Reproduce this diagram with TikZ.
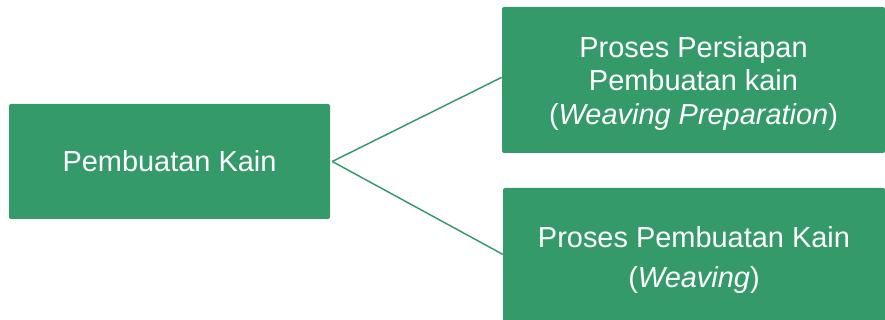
\documentclass[tikz,border=0pt]{standalone}
\usepackage{fontspec}
\setmainfont{Liberation Sans}
\definecolor{kaingreen}{RGB}{53,154,106}
\tikzset{
  kainbox/.style={fill=kaingreen, rounded corners=1.5pt, inner sep=0pt},
  kaintext/.style={text=white, inner sep=0pt, align=center, font=\fontsize{21.7}{25.1}\selectfont},
  kainline/.style={draw=kaingreen, line width=1.1pt}
}
\begin{document}
\begin{tikzpicture}[x=0.75pt,y=0.75pt,yscale=-1]
\useasboundingbox (0,0) rectangle (885,320);
\node [kainbox, minimum width=240.75pt, minimum height=86.25pt] (kain) at (169.5,161.5) {};
\node [kainbox, minimum width=287.25pt, minimum height=109.5pt] (prep) at (693.5,80) {};
\node [kainbox, minimum width=286.5pt, minimum height=103.5pt] (weave) at (694,257) {};
\node [kaintext] (kaintxt) at ([yshift=-0.5pt]kain.center) {Pembuatan Kain};
\node [kaintext] (preptxt) at ([yshift=2.6pt]prep.center) {Proses Persiapan\\Pembuatan kain\\(\textit{Weaving Preparation})};
\node [kaintext, font=\fontsize{21.7}{30}\selectfont] (weavetxt) at ([yshift=2.2pt]weave.center) {Proses Pembuatan Kain\\(\textit{Weaving})};
\draw [kainline] ([xshift=1.5pt]kain.east) -- ([yshift=-2pt]prep.west);
\draw [kainline] ([xshift=1.5pt]kain.east) -- ([yshift=-2pt]weave.west);
\end{tikzpicture}
\end{document}
